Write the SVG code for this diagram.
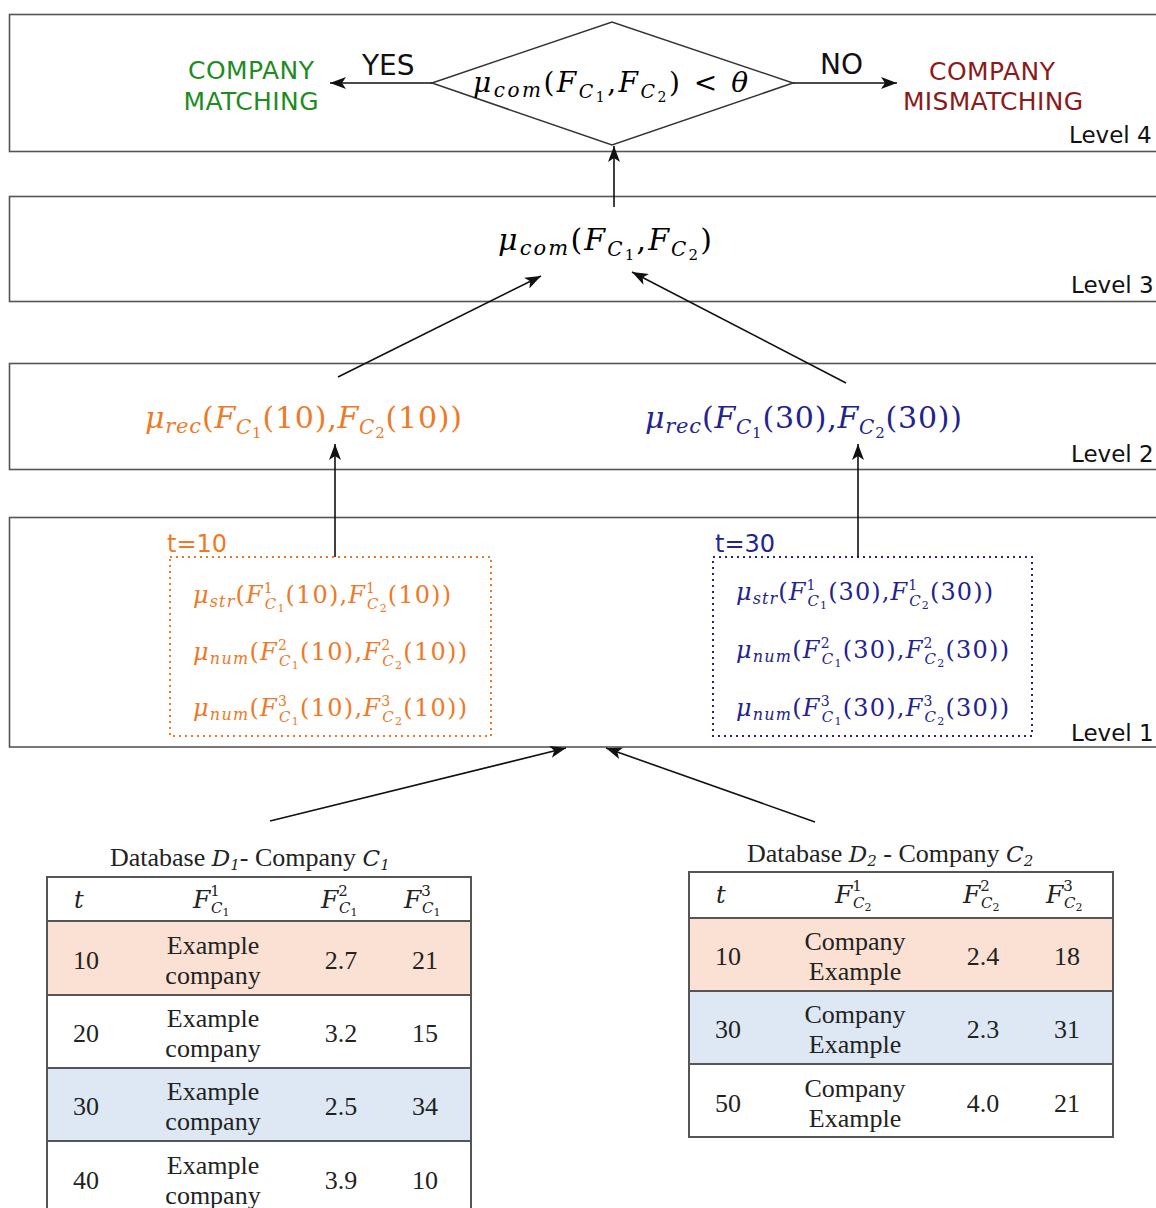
<svg xmlns="http://www.w3.org/2000/svg" width="1156" height="1208" viewBox="0 0 1156 1208">
<style>
.box{fill:#fff;stroke:#555;stroke-width:1.6}
.lvl{font-family:"DejaVu Sans",sans-serif;font-size:23px;fill:#111}
.sans{font-family:"DejaVu Sans",sans-serif}
.m{font-family:"DejaVu Serif",serif}
.i{font-style:italic}
.or{fill:#ee7a26}
.bl{fill:#23238e}
.tb{font-family:"Liberation Serif","Times New Roman",serif;font-size:26px;fill:#222}
.tbl{fill:none;stroke:#555;stroke-width:2}
.cam{font-family:"DejaVu Serif",serif;font-style:italic;fill:#222}
.arr{stroke:#111;stroke-width:1.6;fill:none;marker-end:url(#ah)}
</style>
<defs>
<marker id="ah" markerUnits="userSpaceOnUse" markerWidth="18" markerHeight="12" refX="16" refY="6" orient="auto">
<path d="M0,0 L16,6 L0,12 L4,6 z" fill="#111"/>
</marker>
</defs>
<rect width="1156" height="1208" fill="#fff"/>

<g id="level4">
<rect class="box" x="9.5" y="14.5" width="1200" height="137"/>
<text class="lvl" x="1069" y="143">Level 4</text>
</g>
<g id="level3">
<rect class="box" x="9.5" y="196.5" width="1200" height="105"/>
<text class="lvl" x="1071" y="293">Level 3</text>
</g>
<g id="level2">
<rect class="box" x="9.5" y="363.5" width="1200" height="106"/>
<text class="lvl" x="1071" y="462">Level 2</text>
</g>
<g id="level1">
<rect class="box" x="9.5" y="517.5" width="1200" height="229.5"/>
<text class="lvl" x="1071" y="741">Level 1</text>
</g>

<g id="decision">
<polygon points="432,83 612,22 793,83 612,145" fill="#fff" stroke="#333" stroke-width="1.5"/>
<text class="m" x="473" y="92" font-size="28" textLength="275" lengthAdjust="spacing"><tspan class="i">μ</tspan><tspan class="i" font-size="20" dy="5">com</tspan><tspan dy="-5">(</tspan><tspan class="i">F</tspan><tspan class="i" font-size="19" dy="6">C</tspan><tspan font-size="14" dy="4">1</tspan><tspan dy="-10">,</tspan><tspan class="i">F</tspan><tspan class="i" font-size="19" dy="6">C</tspan><tspan font-size="14" dy="4">2</tspan><tspan dy="-10">) &lt; </tspan><tspan class="i">θ</tspan></text>
</g>

<g id="match">
<text class="sans" font-size="25" fill="#1e8c1e" text-anchor="middle"><tspan x="251" y="79" textLength="126">COMPANY</tspan><tspan x="251" y="110" textLength="135">MATCHING</tspan></text>
</g>
<g id="mismatch">
<text class="sans" font-size="25" fill="#8b1a1a" text-anchor="middle"><tspan x="992" y="80" textLength="126">COMPANY</tspan><tspan x="993" y="110" textLength="180">MISMATCHING</tspan></text>
</g>

<g id="mucom">
<text class="m" x="498" y="250" font-size="30" textLength="214" lengthAdjust="spacing"><tspan class="i">μ</tspan><tspan class="i" font-size="21" dy="5">com</tspan><tspan dy="-5">(</tspan><tspan class="i">F</tspan><tspan class="i" font-size="20" dy="6">C</tspan><tspan font-size="15" dy="4">1</tspan><tspan dy="-10">,</tspan><tspan class="i">F</tspan><tspan class="i" font-size="20" dy="6">C</tspan><tspan font-size="15" dy="4">2</tspan><tspan dy="-10">)</tspan></text>
</g>

<g id="murec10">
<text class="m or" x="145" y="428" font-size="30" textLength="317" lengthAdjust="spacing"><tspan class="i">μ</tspan><tspan class="i" font-size="21" dy="5">rec</tspan><tspan dy="-5">(</tspan><tspan class="i">F</tspan><tspan class="i" font-size="20" dy="6">C</tspan><tspan font-size="15" dy="4">1</tspan><tspan dy="-10">(10),</tspan><tspan class="i">F</tspan><tspan class="i" font-size="20" dy="6">C</tspan><tspan font-size="15" dy="4">2</tspan><tspan dy="-10">(10))</tspan></text>
</g>
<g id="murec30">
<text class="m bl" x="645" y="428" font-size="30" textLength="317" lengthAdjust="spacing"><tspan class="i">μ</tspan><tspan class="i" font-size="21" dy="5">rec</tspan><tspan dy="-5">(</tspan><tspan class="i">F</tspan><tspan class="i" font-size="20" dy="6">C</tspan><tspan font-size="15" dy="4">1</tspan><tspan dy="-10">(30),</tspan><tspan class="i">F</tspan><tspan class="i" font-size="20" dy="6">C</tspan><tspan font-size="15" dy="4">2</tspan><tspan dy="-10">(30))</tspan></text>
</g>

<g id="t10">
<text class="sans or" x="167" y="552" font-size="24">t=10</text>
<rect x="170" y="557" width="321" height="179" fill="none" stroke="#ee7a26" stroke-width="2" stroke-dasharray="2 4"/>
<text class="m or" x="193" y="603" font-size="24" textLength="258" lengthAdjust="spacing"><tspan class="i">μ</tspan><tspan class="i" font-size="16" dy="4">str</tspan><tspan dy="-4">(</tspan><tspan class="i">F</tspan><tspan font-size="14" dy="-10">1</tspan><tspan class="i" font-size="15" dx="-9" dy="16">C</tspan><tspan font-size="11" dy="3">1</tspan><tspan dy="-9">(10),</tspan><tspan class="i">F</tspan><tspan font-size="14" dy="-10">1</tspan><tspan class="i" font-size="15" dx="-9" dy="16">C</tspan><tspan font-size="11" dy="3">2</tspan><tspan dy="-9">(10))</tspan></text>
<text class="m or" x="193" y="660" font-size="24" textLength="274" lengthAdjust="spacing"><tspan class="i">μ</tspan><tspan class="i" font-size="16" dy="4">num</tspan><tspan dy="-4">(</tspan><tspan class="i">F</tspan><tspan font-size="14" dy="-10">2</tspan><tspan class="i" font-size="15" dx="-9" dy="16">C</tspan><tspan font-size="11" dy="3">1</tspan><tspan dy="-9">(10),</tspan><tspan class="i">F</tspan><tspan font-size="14" dy="-10">2</tspan><tspan class="i" font-size="15" dx="-9" dy="16">C</tspan><tspan font-size="11" dy="3">2</tspan><tspan dy="-9">(10))</tspan></text>
<text class="m or" x="193" y="716" font-size="24" textLength="274" lengthAdjust="spacing"><tspan class="i">μ</tspan><tspan class="i" font-size="16" dy="4">num</tspan><tspan dy="-4">(</tspan><tspan class="i">F</tspan><tspan font-size="14" dy="-10">3</tspan><tspan class="i" font-size="15" dx="-9" dy="16">C</tspan><tspan font-size="11" dy="3">1</tspan><tspan dy="-9">(10),</tspan><tspan class="i">F</tspan><tspan font-size="14" dy="-10">3</tspan><tspan class="i" font-size="15" dx="-9" dy="16">C</tspan><tspan font-size="11" dy="3">2</tspan><tspan dy="-9">(10))</tspan></text>
</g>

<g id="t30">
<text class="sans bl" x="715" y="552" font-size="24">t=30</text>
<rect x="713" y="557" width="319" height="179" fill="none" stroke="#23238e" stroke-width="2" stroke-dasharray="2 4"/>
<text class="m bl" x="736" y="600" font-size="24" textLength="257" lengthAdjust="spacing"><tspan class="i">μ</tspan><tspan class="i" font-size="16" dy="4">str</tspan><tspan dy="-4">(</tspan><tspan class="i">F</tspan><tspan font-size="14" dy="-10">1</tspan><tspan class="i" font-size="15" dx="-9" dy="16">C</tspan><tspan font-size="11" dy="3">1</tspan><tspan dy="-9">(30),</tspan><tspan class="i">F</tspan><tspan font-size="14" dy="-10">1</tspan><tspan class="i" font-size="15" dx="-9" dy="16">C</tspan><tspan font-size="11" dy="3">2</tspan><tspan dy="-9">(30))</tspan></text>
<text class="m bl" x="736" y="658" font-size="24" textLength="273" lengthAdjust="spacing"><tspan class="i">μ</tspan><tspan class="i" font-size="16" dy="4">num</tspan><tspan dy="-4">(</tspan><tspan class="i">F</tspan><tspan font-size="14" dy="-10">2</tspan><tspan class="i" font-size="15" dx="-9" dy="16">C</tspan><tspan font-size="11" dy="3">1</tspan><tspan dy="-9">(30),</tspan><tspan class="i">F</tspan><tspan font-size="14" dy="-10">2</tspan><tspan class="i" font-size="15" dx="-9" dy="16">C</tspan><tspan font-size="11" dy="3">2</tspan><tspan dy="-9">(30))</tspan></text>
<text class="m bl" x="736" y="716" font-size="24" textLength="273" lengthAdjust="spacing"><tspan class="i">μ</tspan><tspan class="i" font-size="16" dy="4">num</tspan><tspan dy="-4">(</tspan><tspan class="i">F</tspan><tspan font-size="14" dy="-10">3</tspan><tspan class="i" font-size="15" dx="-9" dy="16">C</tspan><tspan font-size="11" dy="3">1</tspan><tspan dy="-9">(30),</tspan><tspan class="i">F</tspan><tspan font-size="14" dy="-10">3</tspan><tspan class="i" font-size="15" dx="-9" dy="16">C</tspan><tspan font-size="11" dy="3">2</tspan><tspan dy="-9">(30))</tspan></text>
</g>

<g id="table1">
<text class="tb" x="110" y="866" font-size="23">Database  <tspan class="cam" font-size="23">D</tspan><tspan class="cam" font-size="15" dy="4">1</tspan><tspan dy="-4">- Company  </tspan><tspan class="cam" font-size="23">C</tspan><tspan class="cam" font-size="15" dy="4">1</tspan></text>
<rect x="47" y="921" width="424" height="74" fill="#fbe1d3"/>
<rect x="47" y="1068" width="424" height="73" fill="#dde8f4"/>
<rect class="tbl" x="47" y="877" width="424" height="360"/>
<line class="tbl" x1="47" y1="921" x2="471" y2="921"/>
<line class="tbl" x1="47" y1="995" x2="471" y2="995"/>
<line class="tbl" x1="47" y1="1068" x2="471" y2="1068"/>
<line class="tbl" x1="47" y1="1141" x2="471" y2="1141"/>
<text class="cam" x="74" y="908" font-size="24">t</text>
<text class="cam" x="193" y="908" font-size="25">F<tspan font-size="15" font-style="normal" dy="-12">1</tspan><tspan font-size="15" dx="-9" dy="17">C</tspan><tspan font-size="11" font-style="normal" dy="3">1</tspan></text>
<text class="cam" x="321" y="908" font-size="25">F<tspan font-size="15" font-style="normal" dy="-12">2</tspan><tspan font-size="15" dx="-9" dy="17">C</tspan><tspan font-size="11" font-style="normal" dy="3">1</tspan></text>
<text class="cam" x="404" y="908" font-size="25">F<tspan font-size="15" font-style="normal" dy="-12">3</tspan><tspan font-size="15" dx="-9" dy="17">C</tspan><tspan font-size="11" font-style="normal" dy="3">1</tspan></text>
<g class="tb" text-anchor="middle">
<text x="86" y="969">10</text><text x="213" y="954">Example</text><text x="213" y="984">company</text><text x="341" y="969">2.7</text><text x="425" y="969">21</text>
<text x="86" y="1042">20</text><text x="213" y="1027">Example</text><text x="213" y="1057">company</text><text x="341" y="1042">3.2</text><text x="425" y="1042">15</text>
<text x="86" y="1115">30</text><text x="213" y="1100">Example</text><text x="213" y="1130">company</text><text x="341" y="1115">2.5</text><text x="425" y="1115">34</text>
<text x="86" y="1189">40</text><text x="213" y="1174">Example</text><text x="213" y="1204">company</text><text x="341" y="1189">3.9</text><text x="425" y="1189">10</text>
</g>
</g>

<g id="table2">
<text class="tb" x="747" y="862" font-size="23">Database  <tspan class="cam" font-size="23">D</tspan><tspan class="cam" font-size="15" dy="4">2</tspan><tspan dy="-4"> - Company  </tspan><tspan class="cam" font-size="23">C</tspan><tspan class="cam" font-size="15" dy="4">2</tspan></text>
<rect x="689" y="918" width="424" height="73" fill="#fbe1d3"/>
<rect x="689" y="991" width="424" height="73" fill="#dde8f4"/>
<rect class="tbl" x="689" y="872" width="424" height="265"/>
<line class="tbl" x1="689" y1="918" x2="1113" y2="918"/>
<line class="tbl" x1="689" y1="991" x2="1113" y2="991"/>
<line class="tbl" x1="689" y1="1064" x2="1113" y2="1064"/>
<text class="cam" x="716" y="903" font-size="24">t</text>
<text class="cam" x="835" y="903" font-size="25">F<tspan font-size="15" font-style="normal" dy="-12">1</tspan><tspan font-size="15" dx="-9" dy="17">C</tspan><tspan font-size="11" font-style="normal" dy="3">2</tspan></text>
<text class="cam" x="963" y="903" font-size="25">F<tspan font-size="15" font-style="normal" dy="-12">2</tspan><tspan font-size="15" dx="-9" dy="17">C</tspan><tspan font-size="11" font-style="normal" dy="3">2</tspan></text>
<text class="cam" x="1046" y="903" font-size="25">F<tspan font-size="15" font-style="normal" dy="-12">3</tspan><tspan font-size="15" dx="-9" dy="17">C</tspan><tspan font-size="11" font-style="normal" dy="3">2</tspan></text>
<g class="tb" text-anchor="middle">
<text x="728" y="965">10</text><text x="855" y="950">Company</text><text x="855" y="980">Example</text><text x="983" y="965">2.4</text><text x="1067" y="965">18</text>
<text x="728" y="1038">30</text><text x="855" y="1023">Company</text><text x="855" y="1053">Example</text><text x="983" y="1038">2.3</text><text x="1067" y="1038">31</text>
<text x="728" y="1112">50</text><text x="855" y="1097">Company</text><text x="855" y="1127">Example</text><text x="983" y="1112">4.0</text><text x="1067" y="1112">21</text>
</g>
</g>

<g id="connectors">
<line class="arr" x1="432" y1="83" x2="330" y2="83"/>
<text class="sans" x="362" y="75" font-size="28" fill="#111">YES</text>
<line class="arr" x1="793" y1="83" x2="897" y2="83"/>
<text class="sans" x="820" y="74" font-size="28" fill="#111">NO</text>
<line class="arr" x1="614" y1="207" x2="614" y2="146"/>
<line class="arr" x1="338" y1="377" x2="541" y2="276"/>
<line class="arr" x1="846" y1="383" x2="632" y2="272"/>
<line class="arr" x1="335" y1="557" x2="335" y2="444"/>
<line class="arr" x1="858" y1="557" x2="858" y2="444"/>
<line class="arr" x1="270" y1="821" x2="566" y2="748"/>
<line class="arr" x1="815" y1="822" x2="606" y2="748"/>
</g>
</svg>
